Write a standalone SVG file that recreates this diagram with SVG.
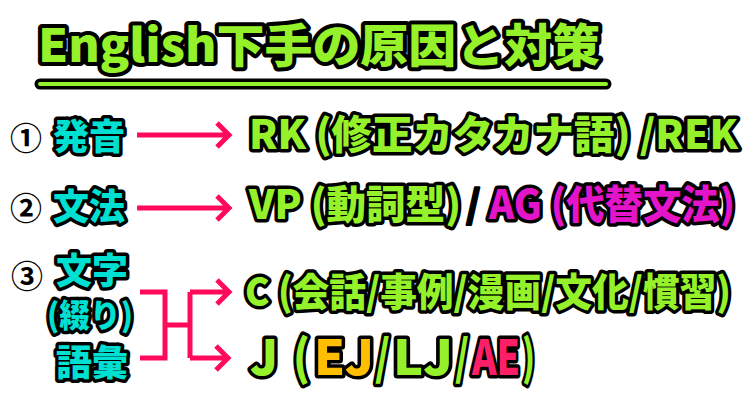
<svg xmlns="http://www.w3.org/2000/svg" width="750" height="400" viewBox="0 0 750 400">
<style>
text{font-family:"Noto Sans CJK JP","Noto Sans",sans-serif;font-weight:900;paint-order:stroke;stroke:#000;stroke-linejoin:round}
.t{fill:#95f22a;stroke-width:8;font-size:46px}
.g{fill:#95f22a;stroke-width:7}
.j{font-size:48px}
.c{fill:#00e0d2;stroke-width:7}
.m{fill:#e414c8}
.o{fill:#ffbe00}
.p{fill:#ff1f66}
.k{fill:#000}
.n{fill:#000;stroke:#fff;stroke-width:3;font-size:32px;font-weight:700}
.a{fill:none;stroke:#ff0a5a;stroke-width:5;stroke-linecap:butt;stroke-linejoin:miter}
</style>
<rect width="750" height="400" fill="#fff"/>
<g id="title">
<text class="t" x="38" y="62" textLength="562" lengthAdjust="spacingAndGlyphs">English下手の原因と対策</text>
<line x1="40" y1="84" x2="606" y2="84" stroke="#000" stroke-width="11" stroke-linecap="round"/>
<line x1="40" y1="84" x2="606" y2="84" stroke="#95f22a" stroke-width="4" stroke-linecap="round"/>
</g>
<g id="row1">
<text class="n" x="10" y="150">①</text>
<text class="c" x="53" y="150" font-size="36">発音</text>
<text class="g" x="249" y="149" font-size="40" textLength="489" lengthAdjust="spacingAndGlyphs">RK (修正カタカナ語) /REK</text>
</g>
<g id="row2">
<text class="n" x="10" y="220">②</text>
<text class="c" x="53" y="220" font-size="36">文法</text>
<text class="g" x="249" y="219" font-size="40" textLength="212" lengthAdjust="spacingAndGlyphs">VP (動詞型)</text>
<text class="k" x="466" y="218" font-size="38" stroke="#fff" stroke-width="2">/</text>
<text class="g m" x="489" y="219" font-size="40" textLength="246" lengthAdjust="spacingAndGlyphs">AG (代替文法)</text>
</g>
<g id="row3">
<text class="n" x="11" y="288">③</text>
<text class="c" x="56" y="284" font-size="36">文字</text>
<text class="c" x="47" y="327" font-size="32" textLength="86" lengthAdjust="spacingAndGlyphs">(綴り)</text>
<text class="c" x="56" y="376" font-size="36">語彙</text>
</g>
<g id="rowC">
<text class="g" x="245" y="306" font-size="39" textLength="486" lengthAdjust="spacingAndGlyphs">C (会話/事例/漫画/文化/慣習)</text>
</g>
<g id="rowJ">
<text class="g j" x="250" y="375" textLength="28" lengthAdjust="spacingAndGlyphs">J</text>
<text class="g j" x="293" y="375" textLength="17" lengthAdjust="spacingAndGlyphs">(</text>
<text class="g j o" x="314" y="375" textLength="60" lengthAdjust="spacingAndGlyphs">EJ</text>
<text class="g j" x="375" y="375" textLength="15" lengthAdjust="spacingAndGlyphs">/</text>
<text class="g j" x="393" y="375" textLength="60" lengthAdjust="spacingAndGlyphs">LJ</text>
<text class="g j" x="455" y="375" textLength="14" lengthAdjust="spacingAndGlyphs">/</text>
<text class="g j p" x="472" y="375" textLength="48" lengthAdjust="spacingAndGlyphs">AE</text>
<text class="g j" x="522" y="375" textLength="13" lengthAdjust="spacingAndGlyphs">)</text>
</g>
<g id="connectors">
<path class="a" d="M137 135H229M217 123L229 135L217 147"/>
<path class="a" d="M137 208H229M217 196L229 208L217 220"/>
<path class="a" d="M140 292H165V358H140M165 325H190M190 292V358M190 292H229M217 280L229 292L217 304M190 358H228M216 346L228 358L216 370"/>
</g>
</svg>
